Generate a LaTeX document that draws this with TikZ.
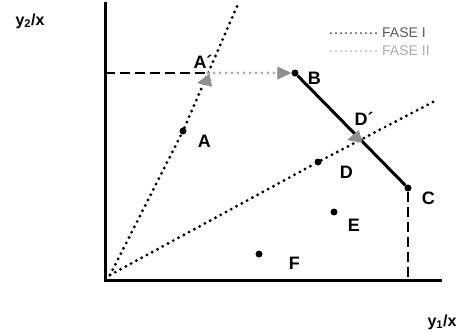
\documentclass[tikz,border=0pt]{standalone}
\usepackage{fontspec}
\setmainfont{Liberation Sans}
\usepackage{tikz}
\usetikzlibrary{arrows.meta,positioning,calc}
\definecolor{FaseGray}{RGB}{150,150,150}

\tikzset{
  pt/.style={circle,fill=black,inner sep=0pt,minimum size=7pt},
  lbl/.style={inner sep=0pt,font=\fontsize{18}{20}\selectfont\bfseries},
  axlbl/.style={inner sep=0pt,font=\fontsize{16}{18}\selectfont\bfseries},
  fase1/.style={line width=3.2pt,line cap=round,dash pattern=on 0pt off 6pt},
  fase2/.style={line width=3.2pt,line cap=round,dash pattern=on 0pt off 6pt,FaseGray!75},
  dashline/.style={line width=2.6pt,dash pattern=on 10pt off 5pt},
  gtip/.style={-{Triangle[length=14pt,width=13pt]},FaseGray!95!black,line width=0.5pt}
}

\begin{document}
\begin{tikzpicture}[x=1pt,y=-1pt,>=Latex]
\useasboundingbox (0,0) rectangle (459,335);

% axes
\coordinate (O) at (105,280);
\coordinate (Ytop) at (105,2);
\coordinate (Xend) at (442,280);
\draw[line width=3pt] (Ytop) -- (O) -- (Xend);
\node[axlbl] (ylab) at (30,21) {y\textsubscript{2}/x};
\node[axlbl] (xlab) at (442,322) {y\textsubscript{1}/x};

% points
\node[pt] (A) at (183,131) {};
\node[pt] (B) at (295,73) {};
\node[pt] (C) at (408,188) {};
\node[pt] (D) at (318,162) {};
\node[pt] (E) at (334,212) {};
\node[pt] (F) at (259,254) {};
\coordinate (Ap) at (208,73);
\coordinate (Dp) at (360,139);
\coordinate (Oa) at (110,275);
\coordinate (Atop) at (238,4);
\coordinate (Dend) at (433,102);
\coordinate (Yb) at (105,73);
\coordinate (Cx) at (408,280);

% rays (fase I)
\draw[fase1] (Oa) -- (A) -- (Atop);
\draw[fase1] (Oa) -- (D) -- (Dend);

% frontier
\draw[dashline] (Yb) -- (Ap);
\draw[line width=3pt] (B) -- (C);
\draw[dashline] (C) -- (Cx);

% fase II
\coordinate (ApBase) at (212,80);
\coordinate (ApTip) at (197,83);
\coordinate (DpBase) at (362,136);
\coordinate (DpTip) at (347,140);
\draw[fase2] (Ap) -- ($(B)!8pt!(Ap)$);
\draw[gtip] ($(B)!15pt!(Ap)$) -- (B.west);
\draw[gtip] (ApBase) -- (ApTip);
\draw[gtip] (DpBase) -- (DpTip);

% labels
\node[lbl,right=11pt of A,yshift=-10pt] (Alab) {A};
\node[lbl,right=9pt of B,yshift=-5pt] (Blab) {B};
\node[lbl,right=10pt of C,yshift=-10pt] (Clab) {C};
\node[lbl,right=18pt of D,yshift=-10pt] (Dlab) {D};
\node[lbl,right=10pt of E,yshift=-13pt] (Elab) {E};
\node[lbl,right=26pt of F,yshift=-9pt] (Flab) {F};
\node[lbl,above=4pt of Ap,xshift=-5pt] (Aplab) {A´};
\node[lbl,above=13pt of Dp,xshift=4pt] (Dplab) {D´};

% legend
\coordinate (L1a) at (331,33);
\coordinate (L1b) at (376,33);
\coordinate (L2a) at (331,51);
\coordinate (L2b) at (376,51);
\draw[line width=2pt,line cap=round,dash pattern=on 0pt off 5pt,black!75] (L1a) -- (L1b);
\draw[line width=2pt,line cap=round,dash pattern=on 0pt off 5pt,FaseGray!70] (L2a) -- (L2b);
\node[inner sep=0pt,anchor=west,text=black!65,font=\fontsize{14}{16}\selectfont] (leg1) at (382,33) {FASE I};
\node[inner sep=0pt,anchor=west,text=FaseGray!80,font=\fontsize{14}{16}\selectfont] (leg2) at (382,51) {FASE II};
\end{tikzpicture}
\end{document}
